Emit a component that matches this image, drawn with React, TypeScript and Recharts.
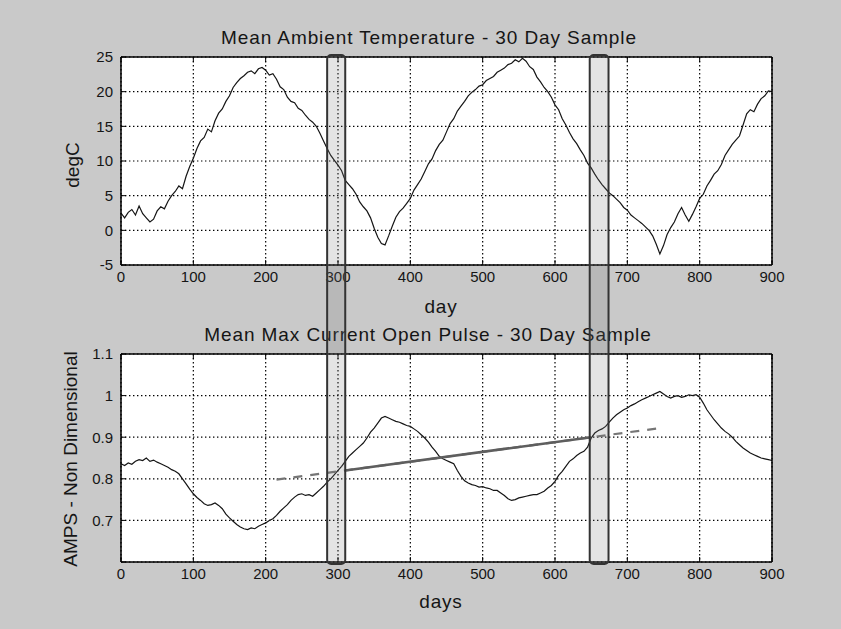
import React from 'react';
import { LineChart, Line, XAxis, YAxis, CartesianGrid, ReferenceArea } from 'recharts';

// ---- data (sampled every 5 days, 0..900) ----
const temperature = [
  2.5, 1.8, 2.6, 3.0, 2.2, 3.5, 2.4, 1.8, 1.2, 1.6,
  2.8, 3.4, 3.1, 4.2, 5.0, 5.6, 6.4, 6.0, 7.8, 9.2,
  10.4, 11.8, 12.9, 13.4, 14.6, 14.2, 15.8, 16.9, 17.5, 18.6,
  19.4, 20.6, 21.3, 21.9, 22.3, 22.8, 23.0, 22.6, 23.3, 23.5,
  23.1, 22.4, 22.6, 21.8, 20.7, 20.3, 19.2, 18.6, 18.4, 17.6,
  17.3, 16.6, 16.0, 15.6, 15.0, 14.0, 12.9, 11.8, 10.8, 10.1,
  9.4, 8.6, 7.2, 6.6, 6.0, 5.2, 4.1, 3.4, 2.8, 1.8,
  0.3, -1.0, -1.9, -2.1, -0.8, 0.6, 1.9, 2.7, 3.2, 3.9,
  4.6, 5.8, 6.6, 7.4, 8.5, 9.6, 10.3, 11.5, 12.4, 13.0,
  14.2, 15.4, 16.1, 17.2, 17.9, 18.6, 19.4, 19.9, 20.3, 20.8,
  21.0, 21.6, 21.9, 22.2, 22.8, 23.1, 23.4, 23.9, 24.1, 24.6,
  24.3, 24.8, 24.4, 23.6, 23.2, 22.1, 21.4, 20.6, 20.0, 19.2,
  18.1, 17.4, 16.1, 15.2, 14.1, 13.2, 12.5, 11.6, 10.8, 9.7,
  9.0, 8.1, 7.3, 6.6, 6.0, 5.4, 5.0, 4.5, 4.0, 3.3,
  2.9, 2.2, 1.8, 1.4, 1.0, 0.5, 0.0, -0.8, -2.0, -3.4,
  -2.2, -0.6, 0.4, 1.2, 2.4, 3.3, 2.2, 1.3, 2.3, 3.4,
  4.6, 5.2, 6.4, 7.2, 8.1, 8.6, 9.5, 10.8, 11.6, 12.4,
  13.0, 13.6, 15.2, 16.8, 17.4, 17.1, 18.2, 19.0, 19.4, 20.1,
  20.0,
];

const current = [
  0.836, 0.832, 0.838, 0.835, 0.842, 0.846, 0.844, 0.850, 0.842, 0.845,
  0.840, 0.836, 0.832, 0.828, 0.822, 0.818, 0.812, 0.800, 0.788, 0.775,
  0.764, 0.755, 0.748, 0.740, 0.736, 0.738, 0.742, 0.736, 0.728, 0.715,
  0.706, 0.698, 0.690, 0.684, 0.680, 0.678, 0.682, 0.680, 0.686, 0.690,
  0.694, 0.700, 0.704, 0.712, 0.722, 0.730, 0.738, 0.748, 0.756, 0.762,
  0.764, 0.760, 0.762, 0.758, 0.766, 0.774, 0.782, 0.792, 0.800, 0.810,
  0.820, 0.830, 0.842, 0.854, 0.862, 0.870, 0.878, 0.886, 0.898, 0.912,
  0.922, 0.934, 0.946, 0.950, 0.946, 0.942, 0.938, 0.936, 0.932, 0.928,
  0.926, 0.920, 0.914, 0.906, 0.898, 0.888, 0.876, 0.866, 0.854, 0.848,
  0.844, 0.840, 0.836, 0.820, 0.806, 0.795, 0.790, 0.786, 0.784, 0.780,
  0.781, 0.778, 0.776, 0.772, 0.772, 0.766, 0.760, 0.752, 0.748, 0.750,
  0.754, 0.756, 0.758, 0.760, 0.762, 0.762, 0.766, 0.770, 0.778, 0.784,
  0.794, 0.808, 0.818, 0.830, 0.842, 0.848, 0.856, 0.862, 0.866, 0.876,
  0.898, 0.910, 0.916, 0.920, 0.926, 0.936, 0.946, 0.954, 0.960, 0.966,
  0.970, 0.976, 0.980, 0.985, 0.990, 0.994, 0.998, 1.002, 1.006, 1.010,
  1.004, 0.998, 0.994, 0.998, 1.000, 0.996, 0.998, 1.002, 1.000, 1.002,
  0.996, 0.982, 0.966, 0.954, 0.942, 0.932, 0.922, 0.914, 0.908, 0.900,
  0.890, 0.882, 0.874, 0.868, 0.862, 0.858, 0.854, 0.850, 0.848, 0.846,
  0.844,
];

const trendDays = [215, 310, 650, 750];
const trendValues = [0.798, 0.82, 0.9, 0.923];

const bandStart = [285, 648];
const bandEnd = [310, 674];

const dayTicks = [0, 100, 200, 300, 400, 500, 600, 700, 800, 900];
const tempTicks = [-5, 0, 5, 10, 15, 20, 25];
const currentTicks = [0.6, 0.7, 0.8, 0.9, 1.0, 1.1];
const currentTickLabels = ['', '0.7', '0.8', '0.9', '1', '1.1'];

const title1 = 'Mean Ambient Temperature - 30 Day Sample';
const title2 = 'Mean Max Current Open Pulse - 30 Day Sample';
const xLabel1 = 'day';
const xLabel2 = 'days';
const yLabel1 = 'degC';
const yLabel2 = 'AMPS - Non Dimensional';

// ---- derived tables ----
const days = temperature.map((_, i) => i * 5);
const tempData = days.map((d, i) => ({ day: d, temp: temperature[i] }));
const currentData = days.map((d, i) => ({ day: d, amps: current[i] }));
const trendData = trendDays.map((d, i) => ({ day: d, trend: trendValues[i] }));
const trendSolid = trendData.slice(1, 3);
const bandFrame = [{ x: 0, y: 0 }, { x: 900, y: 1 }];

const FONT = "'Liberation Sans', Arial, Helvetica, sans-serif";
const INK = '#151515';
const BG = '#c9c9c9';
const frame = { stroke: '#000', strokeWidth: 1.5 };

const tickText = { fontFamily: FONT, fontSize: 15, fill: INK };

function BottomTick(props: any) {
  const { x, y, payload } = props;
  return (
    <g>
      <line x1={x} x2={x} y1={y} y2={y - 5} stroke="#000" strokeWidth={1} />
      <text x={x} y={y + 17} textAnchor="middle" {...tickText}>{payload.value}</text>
    </g>
  );
}
function TopTick(props: any) {
  const { x, y } = props;
  return <line x1={x} x2={x} y1={y} y2={y + 5} stroke="#000" strokeWidth={1} />;
}
function RightTick(props: any) {
  const { x, y } = props;
  return <line x1={x} x2={x - 5} y1={y} y2={y} stroke="#000" strokeWidth={1} />;
}
function makeLeftTick(labels?: string[]) {
  return function LeftTick(props: any) {
    const { x, y, payload, index } = props;
    const label = labels ? labels[index] : String(payload.value);
    return (
      <g>
        <line x1={x} x2={x + 5} y1={y} y2={y} stroke="#000" strokeWidth={1} />
        <text x={x - 8} y={y} dy="0.36em" textAnchor="end" {...tickText}>{label}</text>
      </g>
    );
  };
}
const TempLeftTick = makeLeftTick();
const CurrentLeftTick = makeLeftTick(currentTickLabels);

function hText(value: string, x: number, y: number, size: number, spacing: number) {
  return () => (
    <text x={x} y={y} textAnchor="middle" fontFamily={FONT} fontSize={size} fill={INK} letterSpacing={spacing}>
      {value}
    </text>
  );
}
function vText(value: string, x: number, y: number, size: number) {
  return () => (
    <text x={x} y={y} textAnchor="middle" fontFamily={FONT} fontSize={size} fill={INK} transform={`rotate(-90 ${x} ${y})`}>
      {value}
    </text>
  );
}

function Band(props: any) {
  const { x, y, width, height } = props;
  return (
    <rect x={x} y={y} width={width} height={height} rx={4} ry={4}
      fill="#7a7a7a" fillOpacity={0.2} stroke="#333" strokeWidth={2} />
  );
}

export default function App() {
  return (
    <div style={{ position: 'absolute', left: 0, top: 0, width: 841, height: 629, background: BG, overflow: 'hidden' }}>
      {/* top panel */}
      <div style={{ position: 'absolute', left: 0, top: 0 }}>
        <LineChart width={841} height={330} data={tempData} margin={{ top: 0, right: 68, bottom: 0, left: 0 }}>
          <CartesianGrid stroke="#000" strokeWidth={1.2} strokeDasharray="1.4 2.6" fill="#fff" fillOpacity={1} />
          <XAxis dataKey="day" type="number" domain={[0, 900]} ticks={dayTicks} interval={0}
            height={65} tickSize={0} tickMargin={0} tickLine={false} tick={<BottomTick />} axisLine={frame}
            label={{ content: hText(xLabel1, 441, 313, 19, 0.8) }} />
          <XAxis xAxisId="top" orientation="top" dataKey="day" type="number" domain={[0, 900]} ticks={dayTicks} interval={0}
            height={57} tickSize={0} tickMargin={0} tickLine={false} tick={<TopTick />} axisLine={frame}
            label={{ content: hText(title1, 429, 44, 19, 0.9) }} />
          <YAxis type="number" domain={[-5, 25]} ticks={tempTicks} interval={0} width={121}
            tickSize={0} tickMargin={0} tickLine={false} tick={<TempLeftTick />} axisLine={frame}
            label={{ content: vText(yLabel1, 79, 165, 19) }} />
          <YAxis yAxisId="right" orientation="right" type="number" domain={[-5, 25]} ticks={tempTicks} interval={0} width={1}
            tickSize={0} tickMargin={0} tickLine={false} tick={<RightTick />} axisLine={frame} />
          <Line dataKey="temp" type="linear" dot={false} stroke={INK} strokeWidth={1.2} isAnimationActive={false} />
        </LineChart>
      </div>

      {/* bottom panel */}
      <div style={{ position: 'absolute', left: 0, top: 290 }}>
        <LineChart width={841} height={339} data={currentData} margin={{ top: 0, right: 68, bottom: 0, left: 0 }}>
          <CartesianGrid stroke="#000" strokeWidth={1.2} strokeDasharray="1.4 2.6" fill="#fff" fillOpacity={1} />
          <XAxis dataKey="day" type="number" domain={[0, 900]} ticks={dayTicks} interval={0}
            height={67} tickSize={0} tickMargin={0} tickLine={false} tick={<BottomTick />} axisLine={frame}
            label={{ content: hText(xLabel2, 441, 318, 19, 0.8) }} />
          <XAxis xAxisId="top" orientation="top" dataKey="day" type="number" domain={[0, 900]} ticks={dayTicks} interval={0}
            height={64} tickSize={0} tickMargin={0} tickLine={false} tick={<TopTick />} axisLine={frame}
            label={{ content: hText(title2, 428, 51, 19, 0.9) }} />
          <YAxis type="number" domain={[0.6, 1.1]} ticks={currentTicks} interval={0} width={121}
            tickSize={0} tickMargin={0} tickLine={false} tick={<CurrentLeftTick />} axisLine={frame}
            label={{ content: vText(yLabel2, 77, 169, 19) }} />
          <YAxis yAxisId="right" orientation="right" type="number" domain={[0.6, 1.1]} ticks={currentTicks} interval={0} width={1}
            tickSize={0} tickMargin={0} tickLine={false} tick={<RightTick />} axisLine={frame} />
          <Line dataKey="amps" type="linear" dot={false} stroke={INK} strokeWidth={1.2} isAnimationActive={false} />
          <Line data={trendData} dataKey="trend" type="linear" dot={false} stroke="#767676" strokeWidth={2.2}
            strokeDasharray="9 8" isAnimationActive={false} />
          <Line data={trendSolid} dataKey="trend" type="linear" dot={false} stroke="#5e5e5e" strokeWidth={2.6}
            isAnimationActive={false} />
        </LineChart>
      </div>

      {/* sample-window bands spanning both panels */}
      <div style={{ position: 'absolute', left: 0, top: 0, pointerEvents: 'none' }}>
        <LineChart width={841} height={629} data={bandFrame} margin={{ top: 55, right: 69, bottom: 65, left: 121 }}>
          <XAxis dataKey="x" type="number" domain={[0, 900]} hide />
          <YAxis dataKey="y" type="number" domain={[0, 1]} hide />
          {bandStart.map((s, i) => (
            <ReferenceArea key={i} x1={s} x2={bandEnd[i]} y1={0} y2={1} ifOverflow="visible" shape={<Band />} />
          ))}
        </LineChart>
      </div>
    </div>
  );
}
